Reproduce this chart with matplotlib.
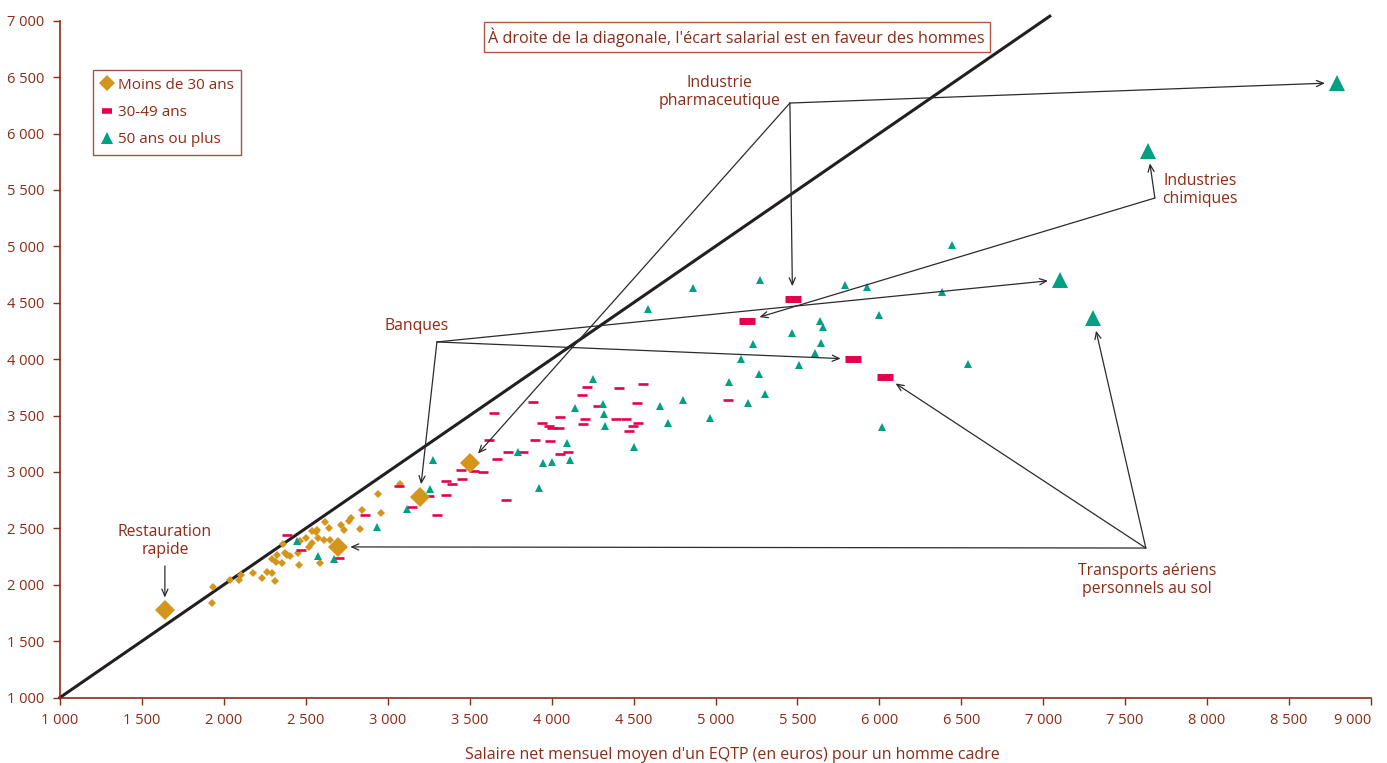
import matplotlib
matplotlib.use("Agg")
import matplotlib.pyplot as plt
from matplotlib.lines import Line2D

plt.rcParams['font.family'] = ['Open Sans', 'DejaVu Sans']

RED_TXT = '#8E2A16'
ORANGE = '#D4951C'
PINK = '#E6004C'
TEAL = '#00A083'

# small points (x = men, y = women)
young_x = [1930, 1935, 2040, 2090, 2105, 2180, 2230, 2265, 2295, 2315, 2295, 2320, 2325, 2355,
           2375, 2405, 2360, 2455, 2460, 2465, 2500, 2520, 2540, 2535, 2560, 2570, 2575, 2585,
           2610, 2615, 2640, 2645, 2715, 2730, 2765, 2775, 2830, 2840, 2940, 2960, 3075, 2385]
young_y = [1840, 1980, 2040, 2040, 2085, 2105, 2055, 2115, 2100, 2030, 2225, 2205, 2265, 2190,
           2285, 2255, 2360, 2280, 2175, 2390, 2410, 2330, 2370, 2475, 2465, 2485, 2415, 2190,
           2395, 2555, 2500, 2395, 2530, 2485, 2565, 2595, 2495, 2660, 2800, 2640, 2890, 2265]

mid_x = [2385, 2470, 2700, 2860, 3070, 3250, 3145, 3300, 3355, 3355, 3390, 3455, 3445, 3525,
         3580, 3665, 3720, 3735, 3825, 3615, 3650, 3885, 3900, 3990, 3940, 3985, 4005, 4045,
         4050, 4050, 4215, 4185, 4410, 4555, 4280, 4520, 4205, 4190, 4390, 4455, 4530, 4495,
         4470, 4100, 5075]
mid_y = [2445, 2310, 2240, 2620, 2875, 2790, 2690, 2620, 2795, 2915, 2895, 2940, 3020, 3010,
         3000, 3110, 2755, 3180, 3180, 3285, 3525, 3620, 3285, 3275, 3435, 3405, 3385, 3385,
         3485, 3160, 3755, 3685, 3740, 3775, 3585, 3615, 3470, 3425, 3465, 3465, 3435, 3410,
         3365, 3180, 3640]

old_x = [2445, 2575, 2670, 2935, 3115, 3255, 3275, 3795, 3945, 4005, 3920, 4255, 4145, 4315,
         4320, 4325, 4095, 4115, 4500, 4660, 4710, 4800, 4965, 5085, 6445, 5270, 4860, 4590,
         5790, 5925, 6385, 6000, 5635, 5655, 5465, 5645, 5230, 5610, 5155, 5510, 5265, 6540,
         5300, 5200, 6015]
old_y = [2385, 2255, 2230, 2510, 2670, 2850, 3105, 3180, 3075, 3085, 2860, 3820, 3570, 3600,
         3510, 3410, 3255, 3105, 3220, 3580, 3435, 3635, 3480, 3800, 5010, 4705, 4630, 4440,
         4660, 4640, 4595, 4395, 4340, 4285, 4230, 4145, 4130, 4050, 4005, 3950, 3870, 3960,
         3690, 3610, 3400]

# highlighted sectors: restauration, transports, banques, pharma
big_young_x = [1640, 2695, 3195, 3500]
big_young_y = [1775, 2335, 2780, 3080]
# pharma, chimie, banques, transports
big_mid_x = [5470, 5195, 5840, 6035]
big_mid_y = [4535, 4340, 4000, 3845]
# pharma, chimie, banques, transports
big_old_x = [8795, 7640, 7105, 7305]
big_old_y = [6450, 5845, 4705, 4360]

ticks_x = list(range(1000, 9001, 500))
ticks_y = list(range(1000, 7001, 500))

fig = plt.figure(figsize=(13.87, 7.63), dpi=100)
ax = fig.add_axes([60 / 1387, 1 - 697.5 / 763, 1311 / 1387, 676.8 / 763])
ax.set_xlim(1000, 9000)
ax.set_ylim(1000, 7000)

# diagonale
ax.plot([1000, 7040], [1000, 7040], color='#231F20', lw=2.2, clip_on=False, zorder=2)

ax.plot(young_x, young_y, 'D', color=ORANGE, ms=4.2, mew=0, zorder=3)
ax.plot(mid_x, mid_y, '_', color=PINK, ms=7, mew=1.9, zorder=3)
ax.plot(old_x, old_y, '^', color=TEAL, ms=6, mew=0, zorder=3)

ax.plot(big_young_x, big_young_y, 'D', color=ORANGE, ms=10, mew=0, zorder=4)
ax.plot(big_mid_x, big_mid_y, '_', color=PINK, ms=11, mew=5, zorder=4)
ax.plot(big_old_x, big_old_y, '^', color=TEAL, ms=12, mew=0, zorder=4)

arrow = dict(arrowstyle='->,head_length=0.5,head_width=0.22', color='#2B2B2B', lw=0.9,
             shrinkA=0, shrinkB=9)


def links(jx, jy, targets):
    for tx, ty in targets:
        ax.annotate('', xy=(tx, ty), xytext=(jx, jy), arrowprops=arrow, zorder=5)


links(5454, 6270, [(big_old_x[0], big_old_y[0]), (big_mid_x[0], big_mid_y[0]),
                   (big_young_x[3], big_young_y[3])])
links(7681, 5428, [(big_old_x[1], big_old_y[1]), (big_mid_x[1], big_mid_y[1])])
links(3300, 4152, [(big_old_x[2], big_old_y[2]), (big_mid_x[2], big_mid_y[2]),
                   (big_young_x[2], big_young_y[2])])
links(7626, 2325, [(big_old_x[3], big_old_y[3]), (big_mid_x[3], big_mid_y[3]),
                   (big_young_x[1], big_young_y[1])])
ax.annotate('', xy=(big_young_x[0], big_young_y[0]), xytext=(big_young_x[0], 2166),
            arrowprops=arrow, zorder=5)

lab = dict(color=RED_TXT, fontsize=11.3, ha='center', va='center', linespacing=1.2)
ax.text(5027, 6368, 'Industrie\npharmaceutique', **lab)
ax.text(7955, 5499, 'Industries\nchimiques', **lab)
ax.text(3178, 4293, 'Banques', **lab)
ax.text(7632, 2042, 'Transports aériens\npersonnels au sol', **lab)
ax.text(1641, 2387, 'Restauration\nrapide', **lab)
ax.text(5130, 6855, "À droite de la diagonale, l'écart salarial est en faveur des hommes",
        color=RED_TXT, fontsize=11.7, ha='center', va='center',
        bbox=dict(boxstyle='square,pad=0.3', fc='white', ec='#B5543E', lw=1.0))

for s in ['top', 'right']:
    ax.spines[s].set_visible(False)
for s in ['left', 'bottom']:
    ax.spines[s].set_color('#8B2A18')
    ax.spines[s].set_linewidth(1.2)

ax.set_xticks(ticks_x)
ax.set_xticklabels([f"{v:,}".replace(",", " ") for v in ticks_x])
ax.set_yticks(ticks_y)
ax.set_yticklabels([f"{v:,}".replace(",", " ") for v in ticks_y])
ax.tick_params(colors='#8B2A18', labelcolor=RED_TXT, labelsize=10.5, length=5, width=1.0,
               pad=6)
ax.get_xticklabels()[-1].set_ha('right')

fig.text(732 / 1387, 1 - 755 / 763,
         "Salaire net mensuel moyen d'un EQTP (en euros) pour un homme cadre",
         color=RED_TXT, fontsize=11.5, ha='center', va='center')

handles = [
    Line2D([], [], ls='none', marker='D', color=ORANGE, ms=8.5, mew=0),
    Line2D([], [], ls='none', marker='_', color=PINK, ms=7.5, mew=4),
    Line2D([], [], ls='none', marker='^', color=TEAL, ms=8.5, mew=0),
]
leg = ax.legend(handles, ['Moins de 30 ans', '30-49 ans', '50 ans ou plus'],
                loc='upper left', bbox_to_anchor=(0.025, 0.927), fontsize=11,
                frameon=True, fancybox=False, handlelength=0.8, handletextpad=0.35,
                borderpad=0.5, labelspacing=0.8, borderaxespad=0)
leg.get_frame().set_edgecolor('#8B2A18')
leg.get_frame().set_linewidth(1.0)
for t in leg.get_texts():
    t.set_color(RED_TXT)

fig.savefig('out.png', dpi=100)
